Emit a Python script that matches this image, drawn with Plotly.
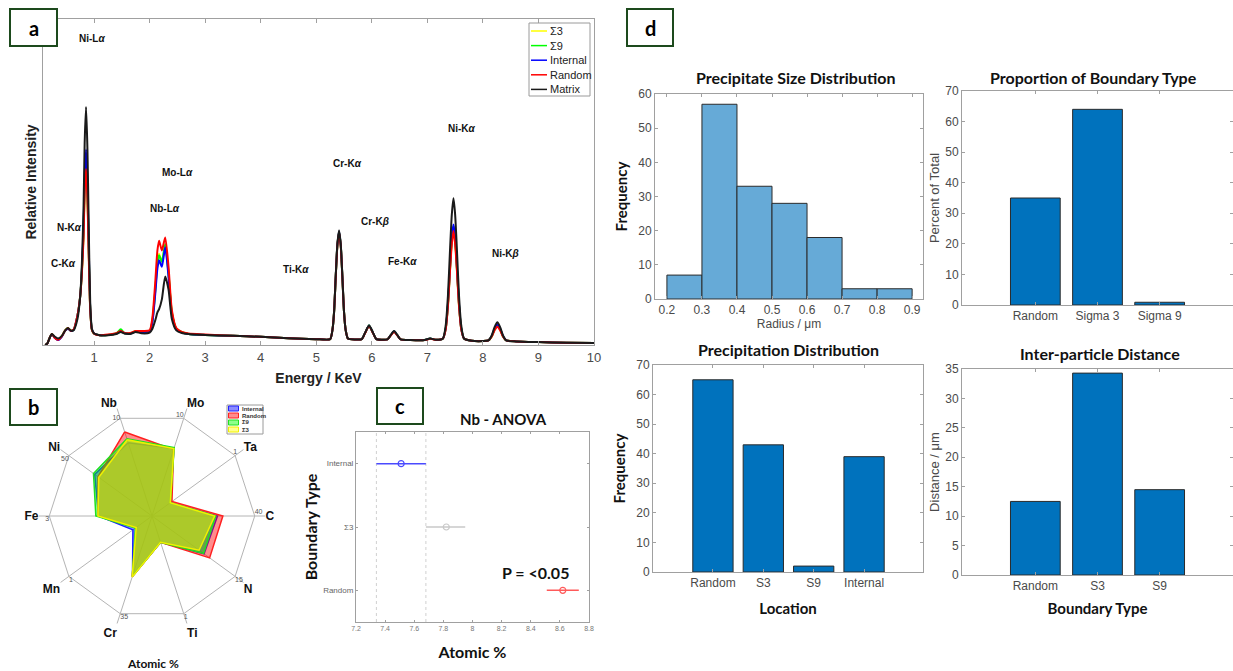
import plotly.graph_objects as go

W, H = 1233, 671


def px(x):
    return x / W


def py(y):
    return 1 - y / H


# ---------------- (a) EDS spectra ----------------
ENERGY_KEV = [
    0.12, 0.16, 0.20, 0.24, 0.29, 0.35, 0.42, 0.48, 0.53, 0.58, 0.63, 0.70,
    0.75, 0.78, 0.81, 0.83, 0.855, 0.88, 0.90, 0.93, 0.96, 1.00,
    1.10, 1.25, 1.40, 1.48, 1.55, 1.65, 1.75, 1.85,
    2.00, 2.05, 2.10, 2.14, 2.17, 2.22, 2.28, 2.34, 2.40, 2.48, 2.58,
    2.70, 3.00, 3.50, 4.00, 4.50, 5.00,
    5.25, 5.29, 5.32, 5.35, 5.38, 5.41, 5.44, 5.47, 5.50, 5.53, 5.57,
    5.70, 5.82, 5.88, 5.95, 6.02, 6.08, 6.18,
    6.28, 6.34, 6.40, 6.46, 6.52, 6.70, 6.95, 7.05, 7.15,
    7.28, 7.33, 7.37, 7.41, 7.44, 7.47, 7.50, 7.53, 7.57, 7.61, 7.66,
    7.80, 8.00, 8.10, 8.16, 8.21, 8.26, 8.31, 8.36, 8.42,
    8.60, 9.00, 9.50, 10.00,
]

SPEC_MATRIX = [
    0.000, 0.005, 0.022, 0.034, 0.026, 0.020, 0.028, 0.045, 0.052, 0.044, 0.045, 0.080,
    0.150, 0.250, 0.420, 0.620, 0.730, 0.600, 0.400, 0.130, 0.050, 0.035,
    0.030, 0.030, 0.034, 0.040, 0.035, 0.034, 0.040, 0.036,
    0.038, 0.050, 0.075, 0.100, 0.110, 0.140, 0.210, 0.170, 0.080, 0.045, 0.037,
    0.034, 0.031, 0.028, 0.025, 0.021, 0.018,
    0.018, 0.045, 0.100, 0.210, 0.310, 0.352, 0.310, 0.210, 0.100, 0.045, 0.020,
    0.017, 0.018, 0.038, 0.060, 0.038, 0.018, 0.016,
    0.017, 0.030, 0.043, 0.030, 0.017, 0.015, 0.015, 0.020, 0.016,
    0.020, 0.060, 0.150, 0.300, 0.400, 0.450, 0.400, 0.300, 0.150, 0.060, 0.020,
    0.013, 0.012, 0.014, 0.030, 0.055, 0.070, 0.055, 0.030, 0.014,
    0.011, 0.009, 0.007, 0.006,
]

SPEC_INTERNAL = [
    0.000, 0.005, 0.022, 0.033, 0.022, 0.015, 0.026, 0.044, 0.050, 0.043, 0.046, 0.090,
    0.150, 0.230, 0.360, 0.520, 0.600, 0.500, 0.330, 0.115, 0.048, 0.035,
    0.030, 0.031, 0.035, 0.042, 0.036, 0.035, 0.041, 0.040,
    0.042, 0.070, 0.155, 0.235, 0.260, 0.240, 0.300, 0.210, 0.095, 0.048, 0.038,
    0.034, 0.031, 0.028, 0.025, 0.021, 0.018,
    0.018, 0.045, 0.100, 0.210, 0.308, 0.348, 0.308, 0.210, 0.100, 0.045, 0.020,
    0.017, 0.018, 0.038, 0.060, 0.038, 0.018, 0.016,
    0.017, 0.030, 0.042, 0.030, 0.017, 0.015, 0.015, 0.020, 0.016,
    0.020, 0.050, 0.125, 0.245, 0.330, 0.370, 0.330, 0.245, 0.125, 0.050, 0.020,
    0.013, 0.012, 0.014, 0.028, 0.050, 0.063, 0.050, 0.028, 0.014,
    0.011, 0.009, 0.007, 0.006,
]

SPEC_RANDOM = [
    0.000, 0.005, 0.022, 0.034, 0.022, 0.016, 0.027, 0.045, 0.052, 0.044, 0.047, 0.090,
    0.150, 0.220, 0.330, 0.470, 0.540, 0.450, 0.300, 0.110, 0.046, 0.035,
    0.030, 0.032, 0.036, 0.043, 0.037, 0.037, 0.043, 0.043,
    0.045, 0.085, 0.190, 0.290, 0.320, 0.290, 0.330, 0.240, 0.107, 0.052, 0.040,
    0.035, 0.032, 0.028, 0.025, 0.021, 0.018,
    0.018, 0.045, 0.100, 0.208, 0.305, 0.345, 0.305, 0.208, 0.100, 0.045, 0.020,
    0.017, 0.018, 0.037, 0.058, 0.037, 0.018, 0.016,
    0.017, 0.029, 0.040, 0.029, 0.017, 0.015, 0.015, 0.019, 0.016,
    0.020, 0.048, 0.118, 0.234, 0.310, 0.350, 0.310, 0.234, 0.118, 0.048, 0.020,
    0.013, 0.012, 0.014, 0.026, 0.045, 0.056, 0.045, 0.026, 0.014,
    0.011, 0.009, 0.007, 0.006,
]

SPEC_SIGMA9 = [
    0.000, 0.005, 0.022, 0.034, 0.023, 0.017, 0.027, 0.045, 0.051, 0.044, 0.046, 0.090,
    0.150, 0.225, 0.345, 0.490, 0.565, 0.470, 0.315, 0.112, 0.047, 0.035,
    0.030, 0.031, 0.036, 0.048, 0.036, 0.036, 0.042, 0.041,
    0.042, 0.075, 0.165, 0.250, 0.275, 0.255, 0.310, 0.220, 0.100, 0.050, 0.039,
    0.034, 0.031, 0.028, 0.025, 0.021, 0.018,
    0.018, 0.045, 0.100, 0.209, 0.307, 0.347, 0.307, 0.209, 0.100, 0.045, 0.020,
    0.017, 0.018, 0.038, 0.060, 0.038, 0.018, 0.016,
    0.017, 0.030, 0.042, 0.030, 0.017, 0.015, 0.015, 0.020, 0.016,
    0.020, 0.050, 0.122, 0.240, 0.325, 0.365, 0.325, 0.240, 0.122, 0.050, 0.020,
    0.013, 0.012, 0.014, 0.027, 0.048, 0.060, 0.048, 0.027, 0.014,
    0.011, 0.009, 0.007, 0.006,
]

SPEC_SIGMA3 = [
    0.000, 0.005, 0.022, 0.034, 0.023, 0.017, 0.027, 0.045, 0.051, 0.044, 0.046, 0.090,
    0.150, 0.225, 0.340, 0.490, 0.560, 0.465, 0.310, 0.112, 0.047, 0.035,
    0.030, 0.031, 0.035, 0.043, 0.036, 0.036, 0.042, 0.041,
    0.042, 0.075, 0.165, 0.255, 0.280, 0.255, 0.305, 0.218, 0.100, 0.050, 0.039,
    0.034, 0.031, 0.028, 0.025, 0.021, 0.018,
    0.018, 0.045, 0.100, 0.209, 0.307, 0.347, 0.307, 0.209, 0.100, 0.045, 0.020,
    0.017, 0.018, 0.038, 0.060, 0.038, 0.018, 0.016,
    0.017, 0.030, 0.042, 0.030, 0.017, 0.015, 0.015, 0.020, 0.016,
    0.020, 0.050, 0.120, 0.238, 0.322, 0.360, 0.322, 0.238, 0.120, 0.050, 0.020,
    0.013, 0.012, 0.014, 0.027, 0.048, 0.060, 0.048, 0.027, 0.014,
    0.011, 0.009, 0.007, 0.006,
]

PEAK_LABELS = ["Ni-L<i>α</i>", "Mo-L<i>α</i>", "Nb-L<i>α</i>", "N-K<i>α</i>", "C-K<i>α</i>",
               "Ti-K<i>α</i>", "Cr-K<i>α</i>", "Cr-K<i>β</i>", "Fe-K<i>α</i>", "Ni-K<i>α</i>",
               "Ni-K<i>β</i>"]
PEAK_LABEL_E = [0.97, 2.51, 2.28, 0.55, 0.44, 4.64, 5.56, 6.05, 6.56, 7.63, 8.40]
PEAK_LABEL_I = [0.94, 0.53, 0.42, 0.36, 0.25, 0.233, 0.558, 0.38, 0.255, 0.663, 0.282]

# ---------------- (b) composition radar ----------------
ELEMENTS = ["Nb", "Mo", "Ta", "C", "N", "Ti", "Cr", "Mn", "Fe", "Ni"]
AXIS_MAX = [10, 10, 1, 40, 15, 1, 35, 1, 3, 50]
AT_INTERNAL = [7.5, 6.9, 0.22, 25.5, 9.4, 0.27, 21.5, 0.23, 1.56, 34.5]
AT_RANDOM = [8.6, 6.8, 0.24, 27.6, 10.4, 0.27, 21.8, 0.19, 1.58, 32.5]
AT_SIGMA9 = [7.9, 7.0, 0.22, 24.8, 9.3, 0.27, 21.7, 0.20, 1.64, 35.2]
AT_SIGMA3 = [7.8, 6.9, 0.22, 24.4, 8.5, 0.27, 21.9, 0.19, 1.58, 32.0]

# ---------------- (c) Nb ANOVA ----------------
ANOVA_GROUPS = ["Internal", "Σ3", "Random"]
ANOVA_MEAN = [7.51, 7.82, 8.62]
ANOVA_LOW = [7.34, 7.68, 8.51]
ANOVA_HIGH = [7.68, 7.95, 8.73]

# ---------------- (d) precipitate statistics ----------------
RADIUS_EDGES = [0.2, 0.3, 0.4, 0.5, 0.6, 0.7, 0.8, 0.9]
RADIUS_COUNTS = [7, 57, 33, 28, 18, 3, 3]
BOUNDARY_TYPES = ["Random", "Sigma 3", "Sigma 9"]
BOUNDARY_PERCENT = [35, 64, 0.9]
LOCATIONS = ["Random", "S3", "S9", "Internal"]
LOCATION_COUNTS = [65, 43, 2, 39]
DIST_TYPES = ["Random", "S3", "S9"]
DIST_UM = [12.5, 34.3, 14.5]

SANS = "Liberation Sans"
CAL = "Lato"
AXIS_GREY = "#a0a0a0"
TICK_GREY = "#4a4a4a"
MATLAB_BLUE = "#0072BD"

fig = go.Figure()

# ---- (a) spectra, Matrix drawn last so it sits on top ----
spectra = [
    ("Σ3", SPEC_SIGMA3, "#ffff00"),
    ("Σ9", SPEC_SIGMA9, "#00ff00"),
    ("Internal", SPEC_INTERNAL, "#0000ff"),
    ("Random", SPEC_RANDOM, "#ff0000"),
    ("Matrix", SPEC_MATRIX, "#1a1a1a"),
]
for name, vals, col in spectra:
    fig.add_trace(go.Scatter(
        x=ENERGY_KEV, y=vals, name=name, mode="lines", showlegend=False,
        line=dict(color=col, width=2, shape="spline", smoothing=0.6),
        xaxis="x", yaxis="y",
    ))

# ---- (b) radar, each axis scaled to its own maximum ----
radar = [
    ("Internal", AT_INTERNAL, "rgba(0,0,255,0.45)", "#2020ff"),
    ("Random", AT_RANDOM, "rgba(255,0,0,0.45)", "#ff2020"),
    ("Σ9", AT_SIGMA9, "rgba(0,255,0,0.45)", "#20e020"),
    ("Σ3", AT_SIGMA3, "rgba(255,255,0,0.45)", "#f0f000"),
]
for name, vals, fillc, linec in radar:
    r = [v / m for v, m in zip(vals, AXIS_MAX)]
    fig.add_trace(go.Scatterpolar(
        r=r + r[:1], theta=ELEMENTS + ELEMENTS[:1], name=name, showlegend=False,
        mode="lines", fill="toself", fillcolor=fillc,
        line=dict(color=linec, width=1.5),
    ))

scale_pos = ["middle left", "top left", "top center", "top right", "bottom right",
             "bottom right", "bottom right", "bottom right", "bottom left", "bottom left"]
fig.add_trace(go.Scatterpolar(
    r=[1.0] * len(ELEMENTS), theta=ELEMENTS, mode="text",
    text=[str(m) for m in AXIS_MAX], textposition=scale_pos,
    textfont=dict(family=SANS, size=7, color="#555555"), showlegend=False,
))

# ---- (c) group means with comparison intervals ----
anova_colors = ["#4a4aff", "#c8c8c8", "#ff5a5a"]
for g, m, lo, hi, col in zip(ANOVA_GROUPS, ANOVA_MEAN, ANOVA_LOW, ANOVA_HIGH, anova_colors):
    fig.add_trace(go.Scatter(
        x=[m], y=[g], mode="markers", showlegend=False,
        marker=dict(symbol="circle-open", size=6, color=col, line=dict(width=1.2)),
        error_x=dict(type="data", symmetric=False, array=[hi - m], arrayminus=[m - lo],
                     color=col, thickness=1.5, width=0),
        xaxis="x2", yaxis="y2",
    ))

# ---- (d) histogram of radii ----
centers = [(a + b) / 2 for a, b in zip(RADIUS_EDGES[:-1], RADIUS_EDGES[1:])]
widths = [b - a for a, b in zip(RADIUS_EDGES[:-1], RADIUS_EDGES[1:])]
fig.add_trace(go.Bar(
    x=centers, y=RADIUS_COUNTS, width=widths, showlegend=False,
    marker=dict(color="rgb(102,170,215)", line=dict(color="#2b2b2b", width=1)),
    xaxis="x3", yaxis="y3",
))
for xs, ys, ax in [(BOUNDARY_TYPES, BOUNDARY_PERCENT, "4"),
                   (LOCATIONS, LOCATION_COUNTS, "5"),
                   (DIST_TYPES, DIST_UM, "6")]:
    fig.add_trace(go.Bar(
        x=xs, y=ys, width=0.8, showlegend=False,
        marker=dict(color=MATLAB_BLUE, line=dict(color="#2b2b2b", width=1)),
        xaxis="x" + ax, yaxis="y" + ax,
    ))


def frame(**kw):
    base = dict(showline=True, linecolor=AXIS_GREY, linewidth=1, mirror="ticks",
                ticks="inside", ticklen=3, tickcolor=AXIS_GREY, showgrid=False,
                zeroline=False, automargin=False,
                tickfont=dict(family=SANS, size=12, color=TICK_GREY))
    base.update(kw)
    return base


def bold(size, family=CAL, color="#111111"):
    return dict(family=family, size=size, color=color, weight="bold")


layout = dict(
    width=W, height=H, autosize=False,
    margin=dict(l=0, r=0, t=0, b=0, autoexpand=False),
    paper_bgcolor="white", plot_bgcolor="white",
    font=dict(family=SANS),
    showlegend=False,
    # (a)
    xaxis=frame(domain=[px(43), px(594)], anchor="y", range=[0.08, 10], tick0=0, dtick=1,
                ticklen=4, tickfont=dict(family=SANS, size=13, color=TICK_GREY),
                title=dict(text="Energy / KeV", font=bold(14, SANS, "#222222"), standoff=9)),
    yaxis=frame(domain=[py(345), py(19)], anchor="x", range=[0, 1], ticks="",
                showticklabels=False, mirror=True,
                title=dict(text="Relative Intensity", font=bold(14, SANS, "#222222"), standoff=2)),
    # (c)
    xaxis2=frame(domain=[px(356), px(589)], anchor="y2", range=[7.2, 8.8], dtick=0.2,
                 ticklen=2, tickfont=dict(family=SANS, size=7, color="#777777"),
                 title=dict(text="Atomic %", font=bold(16), standoff=15)),
    yaxis2=frame(domain=[py(622), py(432)], anchor="x2", type="category",
                 categoryorder="array", categoryarray=ANOVA_GROUPS[::-1], range=[-0.5, 2.5],
                 ticklen=2, tickfont=dict(family=SANS, size=8, color="#666666"),
                 title=dict(text="Boundary Type", font=bold(16), standoff=1)),
    # (d1)
    xaxis3=frame(domain=[px(655), px(923)], anchor="y3", range=[0.166, 0.931], dtick=0.1,
                 tick0=0.2, title=dict(text="Radius / μm", font=dict(family=SANS, size=12,
                                                                     color=TICK_GREY), standoff=3)),
    yaxis3=frame(domain=[py(299), py(94)], anchor="x3", range=[0, 60], dtick=10,
                 title=dict(text="Frequency", font=bold(15), standoff=6)),
    # (d2)
    xaxis4=frame(domain=[px(962), 1.0], anchor="y4", range=[-1.18, 3.18],
                 title=dict(text="")),
    yaxis4=frame(domain=[py(305), py(91)], anchor="x4", range=[0, 70], dtick=10,
                 title=dict(text="Percent of Total", font=dict(family=SANS, size=13,
                                                                color=TICK_GREY), standoff=2)),
    # (d3)
    xaxis5=frame(domain=[px(653), px(923)], anchor="y5", range=[-1.19, 4.17],
                 title=dict(text="Location", font=bold(15), standoff=14)),
    yaxis5=frame(domain=[py(572), py(365)], anchor="x5", range=[0, 70], dtick=10,
                 title=dict(text="Frequency", font=bold(15), standoff=6)),
    # (d4)
    xaxis6=frame(domain=[px(962), 1.0], anchor="y6", range=[-1.18, 3.18],
                 title=dict(text="Boundary Type", font=bold(15), standoff=11)),
    yaxis6=frame(domain=[py(575), py(369)], anchor="x6", range=[0, 35], dtick=5,
                 title=dict(text="Distance / μm", font=dict(family=SANS, size=13,
                                                            color=TICK_GREY), standoff=2)),
    # (b)
    polar=dict(
        domain=dict(x=[px(39), px(265)], y=[py(629), py(403)]),
        bgcolor="white", gridshape="linear",
        radialaxis=dict(range=[0, 1.1], tickvals=[1], showticklabels=False, showline=False,
                        ticks="", gridcolor="#b4b4b4", gridwidth=1),
        angularaxis=dict(rotation=108, direction="clockwise", type="category",
                         categoryorder="array", categoryarray=ELEMENTS,
                         showline=False, ticks="", gridcolor="#b4b4b4", gridwidth=1,
                         tickfont=bold(12, SANS, "#111111")),
    ),
    bargap=0.2,
)
fig.update_layout(**layout)

annotations = []
shapes = []


def label(text, x, y, font, xanchor="center"):
    return dict(text=text, x=px(x), y=py(y), xref="paper", yref="paper",
                xanchor=xanchor, yanchor="middle", showarrow=False, font=font)


for t, e, i in zip(PEAK_LABELS, PEAK_LABEL_E, PEAK_LABEL_I):
    annotations.append(dict(text="<b>" + t + "</b>", x=e, y=i, xref="x", yref="y",
                            xanchor="center", yanchor="middle", showarrow=False,
                            font=dict(family=SANS, size=10, color="#111111")))

# legend for the spectra: framed box with short line samples
leg_x0, leg_y0, leg_x1, leg_y1, leg_step = 529, 23, 590, 96, 14.6
shapes.append(dict(type="rect", xref="paper", yref="paper", x0=px(leg_x0), x1=px(leg_x1),
                   y0=py(leg_y1), y1=py(leg_y0), line=dict(color="#9a9a9a", width=1),
                   fillcolor="white"))
for k, (name, _, col) in enumerate(spectra):
    yy = leg_y0 + 8 + k * leg_step
    shapes.append(dict(type="line", xref="paper", yref="paper", x0=px(531), x1=px(547),
                       y0=py(yy), y1=py(yy), line=dict(color=col, width=1.5)))
    annotations.append(label(name, 548, yy, dict(family=SANS, size=11, color="#222222"),
                             xanchor="left"))

# legend for the radar: small framed box with filled swatches
shapes.append(dict(type="rect", xref="paper", yref="paper", x0=px(227), x1=px(263),
                   y0=py(434), y1=py(405), line=dict(color="#9a9a9a", width=1),
                   fillcolor="white"))
for k, (name, _, fillc, linec) in enumerate(radar):
    yy = 408.5 + k * 7
    shapes.append(dict(type="rect", xref="paper", yref="paper", x0=px(228.5), x1=px(238.5),
                       y0=py(yy + 2.5), y1=py(yy - 2.5), fillcolor=fillc,
                       line=dict(color=linec, width=1)))
    annotations.append(label(name, 240, yy, bold(6, SANS, "#333333"), xanchor="left"))

titles = [
    ("Nb - ANOVA", 503, 419, 15),
    ("Precipitate Size Distribution", 795, 77, 16),
    ("Proportion of Boundary Type", 1093, 77, 16),
    ("Precipitation Distribution", 788, 349, 16),
    ("Inter-particle Distance", 1100, 353, 16),
    ("Atomic %", 153, 663, 12),
    ("P = <0.05", 535, 572, 16),
]
for t, x, y, s in titles:
    annotations.append(label(t, x, y, bold(s)))

panel_boxes = [("a", 10, 9, 57, 46), ("b", 10, 389, 57, 425),
               ("c", 377, 388, 423, 424), ("d", 627, 9, 673, 46)]
for lab, x0, y0, x1, y1 in panel_boxes:
    shapes.append(dict(type="rect", xref="paper", yref="paper",
                       x0=px(x0), x1=px(x1), y0=py(y1), y1=py(y0),
                       line=dict(color="#1d4a1d", width=2), fillcolor="white"))
    annotations.append(label(lab, (x0 + x1) / 2, (y0 + y1) / 2, bold(20, CAL, "#000000")))

# dotted guides at the bounds of the Internal interval
for xv in (ANOVA_LOW[0], ANOVA_HIGH[0]):
    shapes.append(dict(type="line", xref="x2", yref="y2 domain", x0=xv, x1=xv, y0=0, y1=1,
                       line=dict(color="#d0d0d0", width=1, dash="dot"), layer="below"))

fig.update_layout(annotations=annotations, shapes=shapes)

fig.write_html("out.html")
